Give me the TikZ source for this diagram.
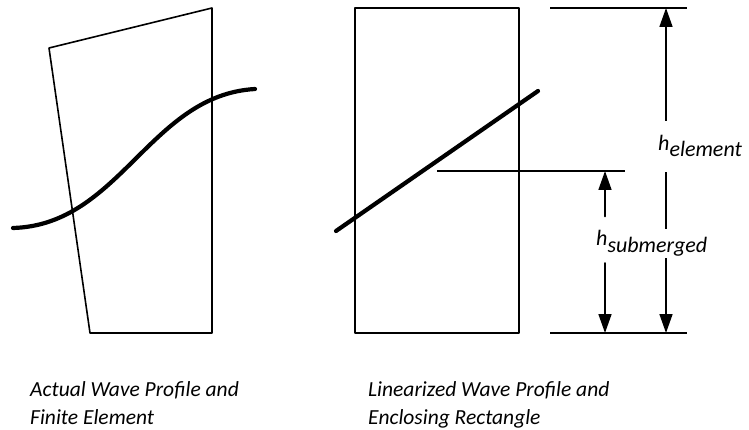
\documentclass[tikz,border=0pt]{standalone}
\usepackage{fontspec}
\setmainfont{Carlito}
\usepackage{tikz}
\usetikzlibrary{arrows.meta,positioning,calc}
\tikzset{
    every picture/.style={line cap=round,line join=round},
    elemline/.style={draw=black,line width=1.6pt},
    waveline/.style={draw=black,line width=4.2pt},
    refline/.style={draw=black,line width=1.6pt,line cap=butt},
    dimarrow/.style={draw=black,line width=1.6pt},
    dimlabel/.style={fill=white,inner xsep=1pt,inner ysep=2pt,anchor=base west,
      font=\fontsize{22}{26}\selectfont\itshape},
    caption/.style={font=\fontsize{21.5}{28}\selectfont\itshape,align=left,
      anchor=north west,inner sep=0pt}
}
\newcommand{\hsubs}[1]{h\raisebox{-6pt}{#1}}

\begin{document}
\begin{tikzpicture}[x=1pt,y=-1pt,>={Triangle[length=19pt,width=13pt]}]
  \useasboundingbox (0,0) rectangle (749,430);
  % actual element and wave
  \coordinate (q1) at (49,48);
  \coordinate (q2) at (212,8);
  \coordinate (q3) at (212,333);
  \coordinate (q4) at (90,333);
  \draw[elemline] (q1) -- (q2) -- (q3) -- (q4) -- cycle;
  \coordinate (w0) at (13,228);
  \coordinate (w1) at (255,89);
  \draw[waveline] (w0) .. controls (120,225) and (150,95) .. (w1);
  % enclosing rectangle and linear wave
  \coordinate (r1) at (355,8);
  \coordinate (r2) at (519,333);
  \draw[elemline] (r1) rectangle (r2);
  \coordinate (l0) at (336,231);
  \coordinate (l1) at (538,91);
  \draw[waveline] (l0) -- (l1);
  % reference lines
  \coordinate (topE) at (666,8);
  \coordinate (botE) at (666,333);
  \coordinate (midS) at (605,171);
  \coordinate (botS) at (605,333);
  \draw[refline] ([xshift=-116pt]topE) -- ([xshift=21pt]topE);
  \draw[refline] ([xshift=-116pt]botE) -- ([xshift=21pt]botE);
  \draw[refline] (437,171) -- ([xshift=20pt]midS);
  % dimensions
  \draw[dimarrow,<->] (topE) -- (botE);
  \node[dimlabel,inner ysep=15pt] (hel) at (657,151) {\hsubs{element}};
  \node[dimlabel] (hsub) at (595,246) {\hsubs{submerged}};
  \draw[dimarrow,->] ($(hsub.north -| midS)+(0,-12)$) -- (midS);
  \draw[dimarrow,->] ($(hsub.south -| midS)+(0,5)$) -- (botS);
  % captions
  \node[caption] (capl) at (30,381) {Actual Wave Profile and\\Finite Element};
  \node[caption] (capr) at (368,381) {Linearized Wave Profile and\\Enclosing Rectangle};
\end{tikzpicture}
\end{document}
